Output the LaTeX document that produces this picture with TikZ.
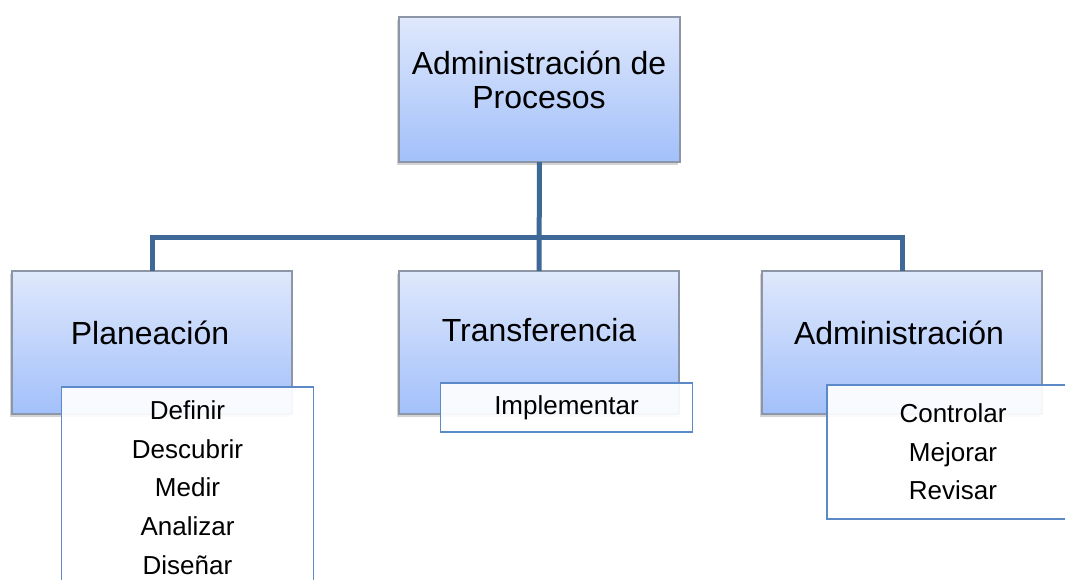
\documentclass[tikz,border=0pt]{standalone}
\usepackage{fontspec}
\setmainfont{Liberation Sans}
\usetikzlibrary{shadows,positioning}

\definecolor{boxtop}{RGB}{223,232,252}
\definecolor{boxbot}{RGB}{162,192,250}
\definecolor{boxline}{RGB}{140,150,166}
\definecolor{linkblue}{RGB}{62,104,152}
\definecolor{listline}{RGB}{92,138,200}

\tikzset{
  mainbox/.style={rectangle, draw=boxline, line width=0.8pt,
    top color=boxtop, bottom color=boxbot,
    minimum width=210pt, minimum height=107.25pt, inner sep=0pt, outer sep=0pt,
    drop shadow={shadow xshift=-1.5pt, shadow yshift=-2pt, opacity=0.35}},
  maintext/.style={font=\fontsize{24}{25.5}\selectfont, align=center, inner sep=0pt},
  listbox/.style={rectangle, draw=listline, line width=0.9pt, fill=white,
    fill opacity=0.92, text opacity=1, minimum width=189pt,
    font=\fontsize{19.5}{29}\selectfont, align=center, inner sep=0pt, outer sep=0pt},
  link/.style={draw=linkblue, line width=3.75pt}
}

\begin{document}
\begin{tikzpicture}[x=0.75pt, y=-0.75pt]
\clip (0,0) rectangle (1065,579);

% main boxes
\node[mainbox, minimum width=210.75pt, minimum height=108.75pt] (proc) at (539.5,89.5) {};
\node[mainbox] (plan) at (152,342.5) {};
\node[mainbox] (trans) at (539,342.5) {};
\node[mainbox] (admin) at (902,342.5) {};

\node[maintext] (proclbl) at (539,80) {Administración de\\Procesos};
\node[maintext] (planlbl) at (150,333) {Planeación};
\node[maintext] (translbl) at (539,330) {Transferencia};
\node[maintext] (adminlbl) at (899,333) {Administración};

% connectors
\coordinate (bar) at (539,237);
\draw[link] (proc.south) -- (trans.north);
\draw[link] (plan.north) |- (bar) -| (admin.north);

% sub lists
\node[listbox, minimum height=150.75pt] (planlist) at (187.5,487.5)
  {Definir\\Descubrir\\Medir\\Analizar\\Diseñar};
\node[listbox, minimum height=36.75pt] (translist) at (566.5,407.5) {Implementar};
\node[listbox, minimum height=100.5pt] (adminlist) at (953,452)
  {Controlar\\Mejorar\\Revisar};
\end{tikzpicture}
\end{document}
